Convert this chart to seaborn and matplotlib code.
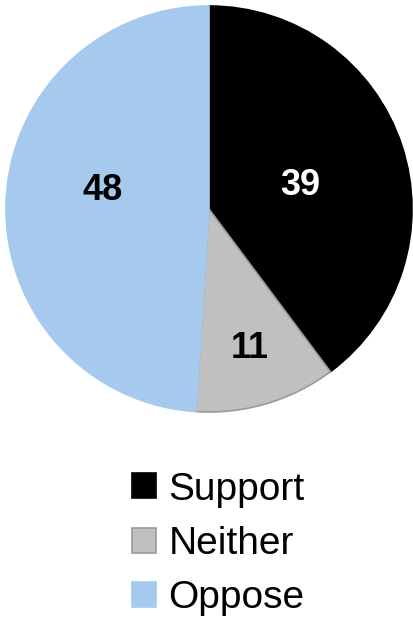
import matplotlib
matplotlib.use("Agg")
import matplotlib.pyplot as plt
import matplotlib.patches as mpatches
import seaborn as sns
import numpy as np

categories = ["Support", "Neither", "Oppose"]
values = [39, 11, 48]
colors = ["#000000", "#C0C0C0", "#A6C9EE"]
edgecolors = ["#000000", "#9A9A9A", "#A6C9EE"]
label_colors = ["white", "black", "black"]

sns.set_theme(style="white")
plt.rcParams['font.family'] = ['Liberation Sans', 'DejaVu Sans']

fig = plt.figure(figsize=(4.13, 6.21), dpi=100)
ax = fig.add_axes([6/413, 1 - 412/621, 406/413, 406/621])

wedges, _ = ax.pie(values, colors=colors, startangle=90, counterclock=False,
                   wedgeprops=dict(linewidth=1.2))
for w, ec in zip(wedges, edgecolors):
    w.set_edgecolor(ec)

# label placement (radial fraction, angle offset in degrees)
place = [(0.466, -2.7), (0.704, 0.2), (0.532, -9.4)]
for w, v, lc, (rf, da) in zip(wedges, values, label_colors, place):
    ang = np.deg2rad((w.theta1 + w.theta2) / 2 + da)
    ax.text(rf * np.cos(ang), rf * np.sin(ang) + 0.008, str(v), ha="center", va="center_baseline",
            fontsize=26, fontweight="bold", color=lc)
ax.set_xlim(-1, 1)
ax.set_ylim(-1, 1)
ax.set_aspect("equal")

handles = [mpatches.Patch(facecolor=c, edgecolor=ec, linewidth=1.2, label=l)
           for c, ec, l in zip(colors, edgecolors, categories)]
leg = fig.legend(handles=handles, loc="upper left", bbox_to_anchor=(116/413, 1 - 456/621),
                 frameon=False, fontsize=28, handlelength=0.62, handleheight=0.62,
                 handletextpad=0.33, labelspacing=0.47, borderaxespad=0)
for t in leg.get_texts():
    t.set_color("black")

fig.savefig("out.png", dpi=100, facecolor="white")
